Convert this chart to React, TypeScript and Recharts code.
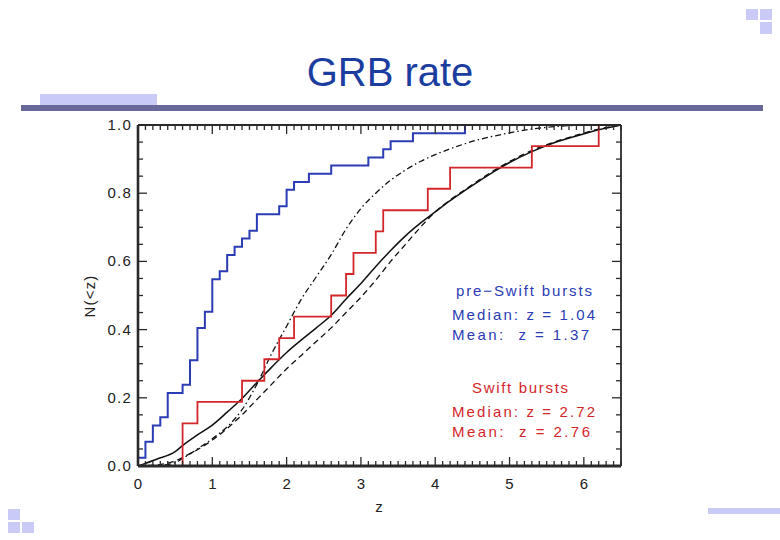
import React from "react";
import { LineChart, Line, XAxis, YAxis } from "recharts";

// pre-Swift bursts, cumulative fraction (step after each z)
const preSwiftZ = [0, 0.1, 0.2, 0.3, 0.4, 0.6, 0.7, 0.8, 0.9, 1.0, 1.1, 1.2, 1.3, 1.4, 1.5, 1.6, 1.9, 2.0, 2.1, 2.3, 2.6, 3.1, 3.3, 3.4, 3.7, 4.4];
const preSwiftN = [0.024, 0.071, 0.119, 0.143, 0.214, 0.238, 0.31, 0.405, 0.452, 0.548, 0.571, 0.619, 0.643, 0.667, 0.69, 0.738, 0.762, 0.81, 0.833, 0.857, 0.881, 0.905, 0.929, 0.952, 0.976, 1.0];

// Swift bursts
const swiftZ = [0.6, 0.6, 0.8, 1.4, 1.7, 1.9, 2.1, 2.6, 2.8, 2.9, 3.2, 3.3, 3.9, 4.2, 5.3, 6.2];
const swiftN = [0, 0.125, 0.188, 0.25, 0.313, 0.375, 0.438, 0.5, 0.563, 0.625, 0.688, 0.75, 0.813, 0.875, 0.938, 1.0];

// model curves, sampled on a common z grid
const curveZ = [0, 0.25, 0.5, 0.6, 0.8, 1.0, 1.2, 1.4, 1.6, 1.8, 2.0, 2.2, 2.4, 2.6, 2.8, 3.0, 3.2, 3.4, 3.6, 3.8, 4.0, 4.2, 4.4, 4.6, 4.8, 5.0, 5.3, 5.6, 5.9, 6.2, 6.5];
const solidN = [0, 0.02, 0.042, 0.06, 0.091, 0.12, 0.158, 0.198, 0.245, 0.29, 0.333, 0.37, 0.405, 0.442, 0.49, 0.535, 0.585, 0.632, 0.675, 0.712, 0.745, 0.778, 0.808, 0.837, 0.865, 0.89, 0.922, 0.948, 0.968, 0.986, 1.0];
const dashedN = [0, 0.003, 0.015, 0.025, 0.048, 0.076, 0.11, 0.15, 0.195, 0.24, 0.285, 0.325, 0.365, 0.405, 0.45, 0.495, 0.545, 0.6, 0.65, 0.7, 0.745, 0.78, 0.81, 0.84, 0.868, 0.893, 0.925, 0.95, 0.97, 0.988, 1.0];
const dashDotN = [0, 0.001, 0.01, 0.022, 0.05, 0.08, 0.115, 0.165, 0.24, 0.33, 0.41, 0.49, 0.555, 0.62, 0.695, 0.755, 0.8, 0.838, 0.868, 0.893, 0.913, 0.93, 0.945, 0.958, 0.968, 0.977, 0.988, 0.995, 0.999, 1.0, 1.0];

const xMajor = [0, 1, 2, 3, 4, 5, 6];
const xTicks = Array.from({ length: 66 }, (_, i) => i / 10);
const yTicks = [0, 0.05, 0.1, 0.15, 0.2, 0.25, 0.3, 0.35, 0.4, 0.45, 0.5, 0.55, 0.6, 0.65, 0.7, 0.75, 0.8, 0.85, 0.9, 0.95, 1.0];

const preSwiftData = preSwiftZ.map((z, i) => ({ z, n: preSwiftN[i] }));
const swiftData = swiftZ.map((z, i) => ({ z, n: swiftN[i] }));
const solidData = curveZ.map((z, i) => ({ z, n: solidN[i] }));
const dashedData = curveZ.map((z, i) => ({ z, n: dashedN[i] }));
const dashDotData = curveZ.map((z, i) => ({ z, n: dashDotN[i] }));

const AXIS = "#2a2a2a";
const LABEL = "#222";
const FONT = "'Liberation Sans', Arial, sans-serif";
const BLUE = "#2b3cb4";
const RED = "#d3262b";
const LAVENDER = "#c9cbf6";

const isMult = (v: number, step: number) => Math.abs(v / step - Math.round(v / step)) < 1e-6;
const isMajorX = (v: number) => xMajor.some((m) => Math.abs(m - v) < 1e-6);

function BottomTick(props: any) {
  const { x, y, payload } = props;
  const v = payload.value;
  const major = isMajorX(v);
  return (
    <g>
      <line x1={x} x2={x} y1={y} y2={y - (major ? 9 : 5)} stroke={AXIS} strokeWidth={1.3} />
      {major && (
        <text x={x} y={y + 23} textAnchor="middle" fontSize={15} fill={LABEL} fontFamily={FONT}>
          {v}
        </text>
      )}
    </g>
  );
}

function TopTick(props: any) {
  const { x, y, payload } = props;
  const major = isMajorX(payload.value);
  return <line x1={x} x2={x} y1={y} y2={y + (major ? 9 : 5)} stroke={AXIS} strokeWidth={1.3} />;
}

function LeftTick(props: any) {
  const { x, y, payload } = props;
  const v = payload.value;
  const major = isMult(v, 0.2);
  return (
    <g>
      <line x1={x} x2={x + (major ? 9 : 5)} y1={y} y2={y} stroke={AXIS} strokeWidth={1.3} />
      {major && (
        <text x={x - 6} y={y + 5} textAnchor="end" fontSize={15} fill={LABEL} fontFamily={FONT} letterSpacing={1.2}>
          {v.toFixed(1)}
        </text>
      )}
    </g>
  );
}

function RightTick(props: any) {
  const { x, y, payload } = props;
  const major = isMult(payload.value, 0.2);
  return <line x1={x} x2={x - (major ? 9 : 5)} y1={y} y2={y} stroke={AXIS} strokeWidth={1.3} />;
}

const box = (left: number, top: number, width: number, height: number, background: string): React.CSSProperties => ({
  position: "absolute",
  left,
  top,
  width,
  height,
  background,
});

export default function App() {
  return (
    <div style={{ position: "absolute", left: 0, top: 0, width: 780, height: 540, background: "#fff", overflow: "hidden" }}>
      {/* slide decorations */}
      <div style={box(746, 9, 12, 11, LAVENDER)} />
      <div style={box(760, 9, 12, 11, LAVENDER)} />
      <div style={box(760, 22, 12, 12, LAVENDER)} />
      <div style={box(40, 94, 117, 11, LAVENDER)} />
      <div style={box(21, 105, 742, 6, "#68699a")} />
      <div style={box(8, 509, 12, 11, LAVENDER)} />
      <div style={box(8, 522, 12, 11, LAVENDER)} />
      <div style={box(22, 522, 12, 11, LAVENDER)} />
      <div style={box(708, 508, 72, 6, LAVENDER)} />

      <div style={{ position: "absolute", left: 0, top: 0 }}>
        <LineChart width={780} height={540} margin={{ top: 124, right: 158, bottom: 73, left: 137 }}>
          <XAxis
            xAxisId="bottom"
            type="number"
            dataKey="z"
            domain={[0, 6.5]}
            allowDataOverflow
            ticks={xTicks}
            interval={0}
            height={1}
            tickSize={0}
            tickMargin={0}
            tickLine={false}
            axisLine={{ stroke: AXIS, strokeWidth: 3 }}
            tick={(p: any) => <BottomTick {...p} />}
          />
          <XAxis
            xAxisId="top"
            orientation="top"
            type="number"
            dataKey="z"
            domain={[0, 6.5]}
            allowDataOverflow
            ticks={xTicks}
            interval={0}
            height={1}
            tickSize={0}
            tickMargin={0}
            tickLine={false}
            axisLine={{ stroke: AXIS, strokeWidth: 1.8 }}
            tick={(p: any) => <TopTick {...p} />}
          />
          <YAxis
            yAxisId="left"
            type="number"
            domain={[0, 1]}
            allowDataOverflow
            ticks={yTicks}
            interval={0}
            width={1}
            tickSize={0}
            tickMargin={0}
            tickLine={false}
            axisLine={{ stroke: AXIS, strokeWidth: 2.6 }}
            tick={(p: any) => <LeftTick {...p} />}
          />
          <YAxis
            yAxisId="right"
            orientation="right"
            type="number"
            domain={[0, 1]}
            allowDataOverflow
            ticks={yTicks}
            interval={0}
            width={1}
            tickSize={0}
            tickMargin={0}
            tickLine={false}
            axisLine={{ stroke: AXIS, strokeWidth: 1.8 }}
            tick={(p: any) => <RightTick {...p} />}
          />
          <Line xAxisId="bottom" yAxisId="left" data={dashedData} dataKey="n" type="monotone" stroke="#111" strokeWidth={1.3} strokeDasharray="6 4" dot={false} isAnimationActive={false} />
          <Line xAxisId="bottom" yAxisId="left" data={dashDotData} dataKey="n" type="monotone" stroke="#111" strokeWidth={1.3} strokeDasharray="6 3 1.5 3" dot={false} isAnimationActive={false} />
          <Line xAxisId="bottom" yAxisId="left" data={solidData} dataKey="n" type="monotone" stroke="#111" strokeWidth={1.5} dot={false} isAnimationActive={false} />
          <Line xAxisId="bottom" yAxisId="left" data={swiftData} dataKey="n" type="stepAfter" stroke={RED} strokeWidth={1.8} dot={false} isAnimationActive={false} />
          <Line xAxisId="bottom" yAxisId="left" data={preSwiftData} dataKey="n" type="stepAfter" stroke={BLUE} strokeWidth={2} dot={false} isAnimationActive={false} />
        </LineChart>
      </div>

      <svg width={780} height={540} style={{ position: "absolute", left: 0, top: 0, pointerEvents: "none" }}>
        <text x={390} y={86} textAnchor="middle" fontSize={40} fill="#1b3d9f" fontFamily={FONT}>
          GRB rate
        </text>
        <text x={379} y={512} textAnchor="middle" fontSize={15} fill={LABEL} fontFamily={FONT}>
          z
        </text>
        <text
          x={89}
          y={296}
          textAnchor="middle"
          dominantBaseline="central"
          fontSize={15}
          fill={LABEL}
          fontFamily={FONT}
          letterSpacing={1.2}
          transform="rotate(-90 89 296)"
        >
          N(&lt;z)
        </text>
        <g fontFamily={FONT} fontSize={15}>
          <text x={456} y={296} fill={BLUE} textLength={136} lengthAdjust="spacing">pre−Swift bursts</text>
          <text x={452} y={320} fill={BLUE} textLength={143} lengthAdjust="spacing">Median: z = 1.04</text>
          <text x={452} y={340} fill={BLUE} textLength={137} lengthAdjust="spacing" xmlSpace="preserve">{"Mean:  z = 1.37"}</text>
          <text x={472} y={393} fill={RED} textLength={96} lengthAdjust="spacing">Swift bursts</text>
          <text x={452} y={417} fill={RED} textLength={143} lengthAdjust="spacing">Median: z = 2.72</text>
          <text x={452} y={437} fill={RED} textLength={138} lengthAdjust="spacing" xmlSpace="preserve">{"Mean:  z = 2.76"}</text>
        </g>
      </svg>
    </div>
  );
}
